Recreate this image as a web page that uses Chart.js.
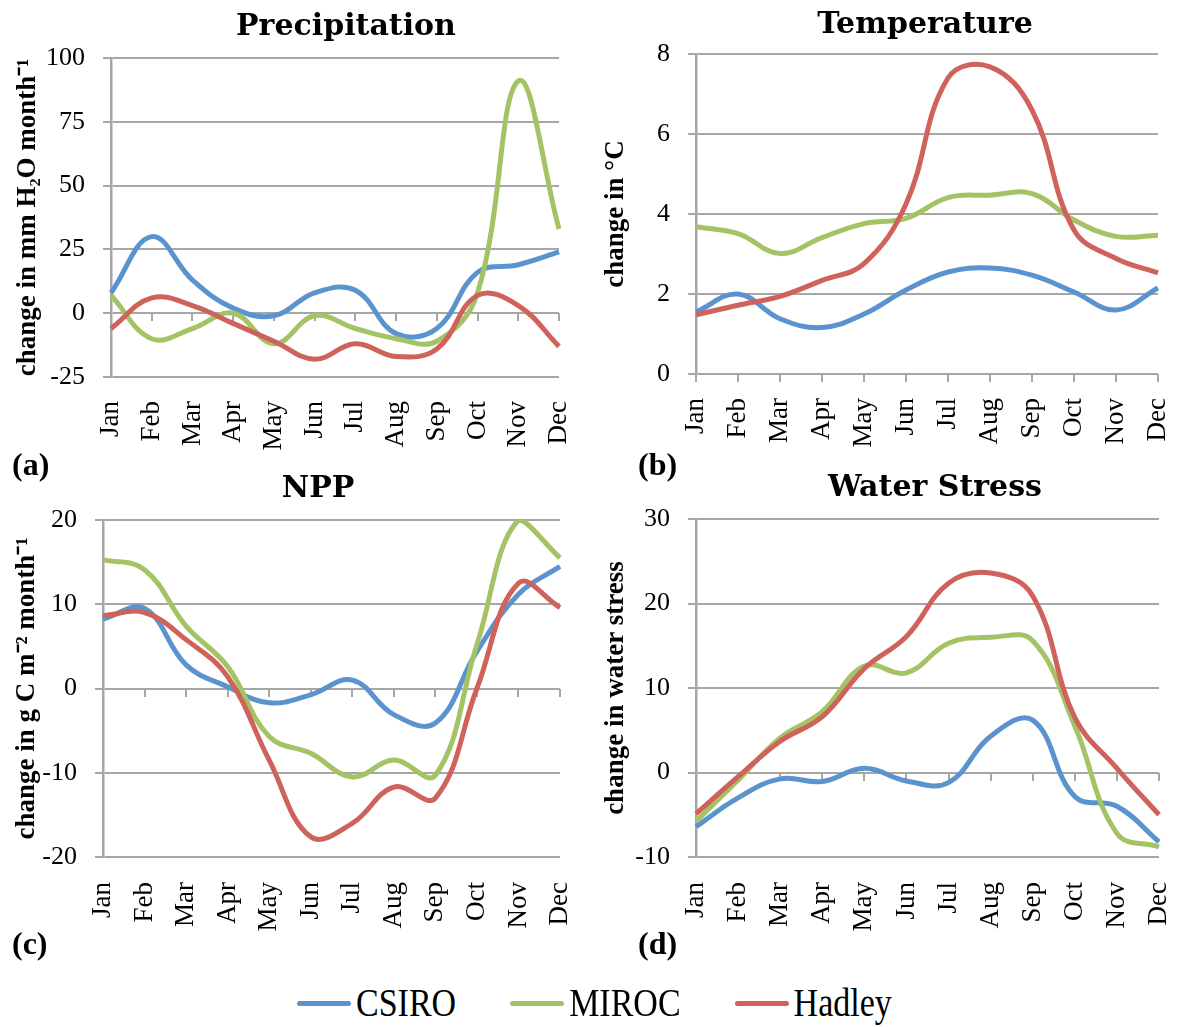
<!DOCTYPE html>
<html>
<head>
<meta charset="utf-8">
<script src="https://cdn.jsdelivr.net/npm/chart.js@4.4.1/dist/chart.umd.min.js"></script>
<style>
  body { margin: 0; background: #fff; }
  #fig { position: relative; width: 1181px; height: 1027px; overflow: hidden; background: #fff; }
  .panel { position: absolute; }
  .ttl { position: absolute; width: 400px; text-align: center; font: bold 30px "DejaVu Serif", serif; line-height: 36px; color: #000; }
  .tag { position: absolute; font: bold 32px "Liberation Serif", serif; line-height: 36px; color: #000; }
  #legend { position: absolute; left: 297px; top: 985px; height: 36px; display: flex; align-items: center; }
  #legend .item { display: flex; align-items: center; margin-right: 54px; }
  #legend .sw { width: 54px; height: 5px; border-radius: 3px; margin-right: 5px; }
  #legend .lbl { font: 34px "Liberation Serif", serif; color: #000; display: inline-block; transform: scaleY(1.2); }
</style>
</head>
<body>
<div id="fig">
  <div class="panel" style="left:0;top:0"><canvas id="cPrec" width="590" height="460"></canvas></div>
  <div class="panel" style="left:590px;top:0"><canvas id="cTemp" width="591" height="460"></canvas></div>
  <div class="panel" style="left:0;top:460px"><canvas id="cNpp" width="590" height="520"></canvas></div>
  <div class="panel" style="left:590px;top:460px"><canvas id="cWs" width="591" height="520"></canvas></div>

  <div class="ttl" style="left:146px;top:7px">Precipitation</div>
  <div class="ttl" style="left:725px;top:5px">Temperature</div>
  <div class="ttl" style="left:118px;top:469px">NPP</div>
  <div class="ttl" style="left:735px;top:468px">Water Stress</div>

  <div class="tag" style="left:12px;top:446px">(a)</div>
  <div class="tag" style="left:638px;top:446px">(b)</div>
  <div class="tag" style="left:12px;top:925px">(c)</div>
  <div class="tag" style="left:638px;top:925px">(d)</div>

  <div id="legend"></div>
</div>
<script>
const months = ['Jan', 'Feb', 'Mar', 'Apr', 'May', 'Jun', 'Jul', 'Aug', 'Sep', 'Oct', 'Nov', 'Dec'];
const models = ['CSIRO', 'MIROC', 'Hadley'];
const modelColors = ['#5B93CF', '#A3C365', '#D0625C'];

// (a) precipitation change, mm H2O per month
const precCSIRO  = [8, 30, 13, 2, -1, 8, 9, -8, -6, 16, 19, 24];
const precMIROC  = [7, -10, -6, 0, -12, -1, -6, -10, -11, 8, 91, 33];
const precHadley = [-6, 6, 3, -4, -11, -18, -12, -17, -14, 7, 3, -13];

// (b) temperature change, deg C
const tempCSIRO  = [1.55, 2.0, 1.38, 1.16, 1.5, 2.1, 2.55, 2.65, 2.47, 2.05, 1.6, 2.15];
const tempMIROC  = [3.68, 3.51, 3.01, 3.41, 3.76, 3.89, 4.41, 4.47, 4.51, 3.85, 3.44, 3.47];
const tempHadley = [1.48, 1.72, 1.94, 2.34, 2.76, 4.25, 7.4, 7.68, 6.6, 3.6, 2.89, 2.53];

// (c) NPP change, g C per m2 per month
const nppCSIRO  = [8.25, 9.5, 2.8, 0.2, -1.7, -0.75, 1.0, -3.1, -4.1, 4.4, 11.2, 14.5];
const nppMIROC  = [15.3, 14.1, 7.4, 2.6, -5.7, -7.7, -10.5, -8.5, -10.3, 5.2, 20, 15.5];
const nppHadley = [8.65, 9.0, 5.8, 1.4, -8.5, -17.6, -16, -11.7, -13, 0, 12.5, 9.6];

// (d) water stress change
const wsCSIRO  = [-6.4, -3.0, -0.75, -1.07, 0.5, -1.0, -1.2, 4.3, 6.2, -2.85, -4.0, -8.2];
const wsMIROC  = [-5.8, -0.9, 4.1, 7.2, 12.6, 11.8, 15.3, 16.0, 15.6, 5.5, -7.2, -8.8];
const wsHadley = [-4.9, -0.5, 3.7, 6.6, 12.3, 16.1, 22.4, 23.6, 20.9, 6.5, 0.5, -5.0];

const gridColor = '#A6A6A6';
const serif = '"Liberation Serif", serif';

function makePanel(canvasId, series, yMin, yMax, yStep, yTitle, g) {
  const datasets = series.map((vals, i) => ({
    label: models[i],
    data: vals,
    borderColor: modelColors[i],
    backgroundColor: modelColors[i],
    borderWidth: 5,
    pointRadius: 0,
    tension: 0.4,
    fill: false,
    order: 3 - i
  }));

  new Chart(document.getElementById(canvasId), {
    type: 'line',
    data: { labels: months, datasets: datasets },
    options: {
      responsive: false,
      animation: false,
      devicePixelRatio: 1,
      layout: { padding: { top: g.top, right: g.right, left: 0, bottom: 0 } },
      plugins: { legend: { display: false }, title: { display: false }, tooltip: { enabled: false } },
      scales: {
        x: {
          type: 'category',
          offset: false,
          grid: { display: false, drawTicks: false },
          border: { display: false },
          ticks: {
            autoSkip: false, minRotation: 90, maxRotation: 90,
            padding: g.labelPad, color: '#000',
            font: { family: serif, size: 27 }
          },
          afterFit: s => {
            s.height = g.xH;
            // keep the plot reaching the right edge; Dec label fits in the padding
            s.paddingLeft = 0;
            s.paddingRight = 0;
          }
        },
        // tick marks sitting on the zero line
        x0: {
          axis: 'x',
          type: 'category',
          offset: false,
          position: { y: 0 },
          grid: { drawOnChartArea: false, drawTicks: true, tickLength: 8, color: gridColor, lineWidth: 2 },
          border: { display: false },
          ticks: { display: false }
        },
        y: {
          min: yMin, max: yMax,
          grid: { color: gridColor, lineWidth: 2, drawTicks: true, tickLength: 8 },
          border: { display: true, color: gridColor, width: 2.5 },
          ticks: { stepSize: yStep, padding: 18, color: '#000', font: { family: serif, size: 26 } },
          title: {
            display: true, text: yTitle, color: '#000',
            font: { family: serif, size: 27, weight: 'bold' },
            padding: { top: g.titlePad, bottom: 0 }
          },
          afterFit: s => { s.width = g.yW; }
        }
      }
    }
  });
}

makePanel('cPrec', [precCSIRO, precMIROC, precHadley], -25, 100, 25,
  'change in mm H\u2082O month\u207B\u00B9',
  { top: 58, right: 31, yW: 111, xH: 83, labelPad: 24, titlePad: 12 });
makePanel('cTemp', [tempCSIRO, tempMIROC, tempHadley], 0, 8, 2,
  'change in \u00B0C',
  { top: 54, right: 23, yW: 106, xH: 86, labelPad: 24, titlePad: 10 });
makePanel('cNpp', [nppCSIRO, nppMIROC, nppHadley], -20, 20, 10,
  'change in g C m\u207B\u00B2 month\u207B\u00B9',
  { top: 60, right: 30, yW: 103, xH: 123, labelPad: 25, titlePad: 11 });
makePanel('cWs', [wsCSIRO, wsMIROC, wsHadley], -10, 30, 10,
  'change in water stress',
  { top: 59, right: 22, yW: 106, xH: 123, labelPad: 25, titlePad: 10 });

// shared legend under the four panels
const legend = document.getElementById('legend');
models.forEach((m, i) => {
  const item = document.createElement('div');
  item.className = 'item';
  const sw = document.createElement('span');
  sw.className = 'sw';
  sw.style.background = modelColors[i];
  const lbl = document.createElement('span');
  lbl.className = 'lbl';
  lbl.textContent = m;
  item.appendChild(sw);
  item.appendChild(lbl);
  legend.appendChild(item);
});
</script>
</body>
</html>
